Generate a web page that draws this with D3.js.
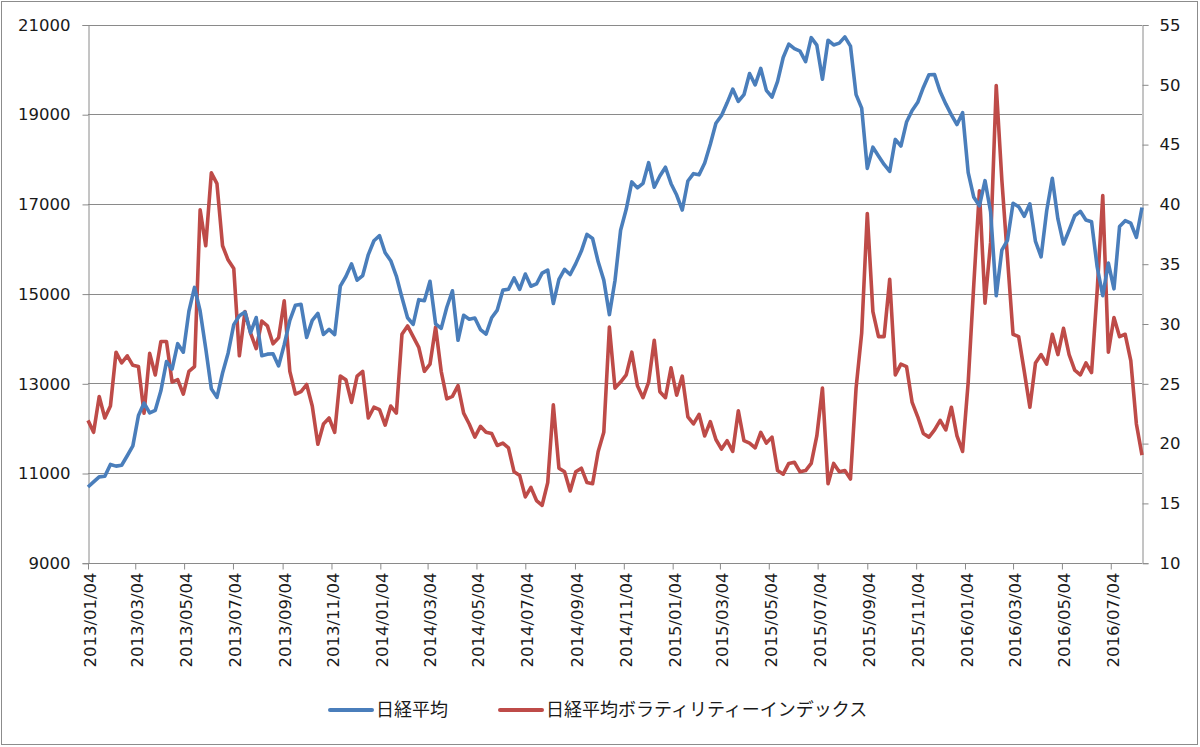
<!DOCTYPE html>
<html>
<head>
<meta charset="utf-8">
<script src="https://cdn.jsdelivr.net/npm/d3@7"></script>
<style>
  body { margin: 0; background: #fff; }
  svg text { font-family: "DejaVu Sans", sans-serif; fill: #1a1a1a; }
  .legend text { font-family: "Noto Sans CJK JP", sans-serif; }
</style>
</head>
<body>
<div id="chart"></div>
<script>
// weekly closes, first week 2013/01/04
const startDate = "2013/01/04";

const nikkei = [
  10688, 10801, 10913, 10926, 11191, 11153, 11173, 11385, 11606, 12283, 12560, 12338, 12397,
  12833, 13485, 13316, 13884, 13694, 14607, 15138, 14612, 13774, 12877, 12686, 13230, 13677,
  14309, 14506, 14589, 14129, 14466, 13615, 13650, 13660, 13388, 13860, 14404, 14742, 14760,
  14024, 14404, 14561, 14088, 14201, 14086, 15165, 15381, 15661, 15299, 15403, 15870, 16178,
  16291, 15912, 15734, 15391, 14914, 14462, 14313, 14865, 14841, 15274, 14327, 14224, 14696,
  15063, 13960, 14516, 14429, 14457, 14199, 14096, 14462, 14632, 15077, 15097, 15349, 15095,
  15437, 15164, 15215, 15457, 15523, 14778, 15318, 15539, 15425, 15668, 15948, 16321, 16229,
  15708, 15300, 14532, 15291, 16413, 16880, 17490, 17357, 17459, 17920, 17371, 17621, 17818,
  17451, 17197, 16864, 17511, 17674, 17648, 17913, 18332, 18798, 18971, 19254, 19560, 19285,
  19435, 19908, 19653, 20020, 19531, 19379, 19733, 20264, 20563, 20461, 20407, 20174, 20706,
  20539, 19780, 20650, 20544, 20585, 20724, 20519, 19436, 19136, 17792, 18264, 18070, 17880,
  17725, 18438, 18291, 18825, 19083, 19265, 19596, 19879, 19883, 19504, 19230, 18986, 18769,
  19033, 17697, 17147, 16958, 17518, 16819, 14952, 15967, 16188, 17014, 16938, 16724, 17002,
  16164, 15821, 16848, 17572, 16666, 16106, 16412, 16736, 16834, 16642, 16601, 15599, 14952,
  15682, 15106, 16497, 16627, 16569, 16254, 16919
];

const nikkeiVI = [
  21.9, 20.9, 23.9, 22.1, 23.1, 27.6, 26.7, 27.3, 26.5, 26.4, 22.5, 27.5, 25.7,
  28.5, 28.5, 25.1, 25.3, 24.1, 26.0, 26.4, 39.5, 36.5, 42.6, 41.7, 36.5, 35.3,
  34.6, 27.3, 31.0, 29.2, 27.9, 30.2, 29.8, 28.3, 28.8, 31.9, 26.0, 24.1, 24.3,
  24.9, 23.1, 19.9, 21.6, 22.1, 20.9, 25.6, 25.3, 23.4, 25.6, 26.0, 22.1, 23.0,
  22.8, 21.5, 23.1, 22.5, 29.1, 29.8, 28.9, 28.0, 26.0, 26.6, 29.7, 26.0, 23.7,
  23.9, 24.8, 22.5, 21.6, 20.5, 21.4, 20.9, 20.8, 19.8, 20.0, 19.6, 17.6, 17.3,
  15.5, 16.3, 15.2, 14.8, 16.7, 23.2, 17.9, 17.6, 16.0, 17.6, 17.9, 16.7, 16.6,
  19.3, 20.9, 29.7, 24.6, 25.1, 25.7, 27.6, 24.8, 23.8, 25.1, 28.6, 24.3, 23.8,
  26.3, 24.0, 25.6, 22.2, 21.6, 22.4, 20.6, 21.8, 20.3, 19.5, 20.2, 19.3, 22.7,
  20.2, 20.0, 19.6, 20.9, 20.0, 20.5, 17.7, 17.4, 18.3, 18.4, 17.6, 17.7, 18.3,
  20.6, 24.6, 16.6, 18.3, 17.6, 17.7, 17.0, 24.6, 29.2, 39.2, 31.0, 28.9, 28.9,
  33.7, 25.7, 26.6, 26.4, 23.4, 22.2, 20.8, 20.5, 21.1, 21.9, 21.1, 23.0, 20.6,
  19.3, 25.1, 33.3, 41.1, 31.7, 36.8, 49.9, 42.0, 35.5, 29.1, 28.9, 26.0, 23.0,
  26.7, 27.4, 26.6, 29.1, 27.4, 29.6, 27.4, 26.1, 25.7, 26.7, 25.9, 32.7, 40.7,
  27.6, 30.5, 28.9, 29.1, 26.9, 21.6, 19.0
];

const xTickLabels = [
  "2013/01/04", "2013/03/04", "2013/05/04", "2013/07/04", "2013/09/04", "2013/11/04",
  "2014/01/04", "2014/03/04", "2014/05/04", "2014/07/04", "2014/09/04", "2014/11/04",
  "2015/01/04", "2015/03/04", "2015/05/04", "2015/07/04", "2015/09/04", "2015/11/04",
  "2016/01/04", "2016/03/04", "2016/05/04", "2016/07/04"
];
const leftTicks = [9000, 11000, 13000, 15000, 17000, 19000, 21000];
const rightTicks = [10, 15, 20, 25, 30, 35, 40, 45, 50, 55];
const seriesNames = ["日経平均", "日経平均ボラティリティーインデックス"];

const width = 1200, height = 747;
const plot = { left: 88, right: 1142, top: 24.5, bottom: 562.7 };
const blue = "#4a7ebb", red = "#be4b48", grid = "#8a8a8a";

const parse = d3.timeParse("%Y/%m/%d");
const start = parse(startDate);
const dates = nikkei.map((d, i) => d3.timeDay.offset(start, 7 * i));

const x = d3.scaleTime()
  .domain([start, dates[dates.length - 1]])
  .range([plot.left, plot.right]);
const yL = d3.scaleLinear().domain([9000, 21000]).range([plot.bottom, plot.top]);
const yR = d3.scaleLinear().domain([10, 55]).range([plot.bottom, plot.top]);

const svg = d3.select("#chart").append("svg")
  .attr("width", width)
  .attr("height", height);

// chart border
svg.append("rect")
  .attr("x", 1.5).attr("y", 1.5)
  .attr("width", width - 4).attr("height", height - 4)
  .attr("fill", "#fff")
  .attr("stroke", "#8c8c8c");

// gridlines
svg.append("g")
  .selectAll("line")
  .data(leftTicks)
  .enter().append("line")
  .attr("x1", plot.left).attr("x2", plot.right)
  .attr("y1", d => Math.round(yL(d)) + 0.5)
  .attr("y2", d => Math.round(yL(d)) + 0.5)
  .attr("stroke", grid);

// left axis
const axL = svg.append("g")
  .attr("transform", `translate(${plot.left + 0.5},0.5)`)
  .call(d3.axisLeft(yL).tickValues(leftTicks).tickSize(6).tickPadding(12).tickFormat(d3.format("d")));

// right axis
const axR = svg.append("g")
  .attr("transform", `translate(${plot.right + 0.5},0.5)`)
  .call(d3.axisRight(yR).tickValues(rightTicks).tickSize(6).tickPadding(11));

// bottom axis
const axB = svg.append("g")
  .attr("transform", `translate(0,${Math.round(plot.bottom) + 0.5})`)
  .call(d3.axisBottom(x).tickValues(xTickLabels.map(parse)).tickSize(6)
    .tickFormat(d3.timeFormat("%Y/%m/%d")));

axB.selectAll("text")
  .attr("transform", "rotate(-90)")
  .attr("text-anchor", "end")
  .attr("x", -9)
  .attr("y", 0)
  .attr("dy", "0.45em");

[axL, axR, axB].forEach(ax => {
  ax.select(".domain").attr("stroke", grid);
  ax.selectAll(".tick line").attr("stroke", grid);
  ax.selectAll("text").style("font-size", "16.5px").attr("fill", "#1a1a1a");
});
axB.select(".domain").attr("d", `M${plot.left},0H${plot.right}`);

// lines
const lineL = d3.line().x((d, i) => x(dates[i])).y(d => yL(d));
const lineR = d3.line().x((d, i) => x(dates[i])).y(d => yR(d));

svg.append("path")
  .datum(nikkeiVI)
  .attr("d", lineR)
  .attr("fill", "none")
  .attr("stroke", red)
  .attr("stroke-width", 3.6)
  .attr("stroke-linejoin", "round");

svg.append("path")
  .datum(nikkei)
  .attr("d", lineL)
  .attr("fill", "none")
  .attr("stroke", blue)
  .attr("stroke-width", 3.6)
  .attr("stroke-linejoin", "round");

// legend
const legend = svg.append("g").attr("class", "legend");
const legendX = [330, 500];
const legendColors = [blue, red];
seriesNames.forEach((name, i) => {
  legend.append("line")
    .attr("x1", legendX[i]).attr("x2", legendX[i] + 42)
    .attr("y1", 710).attr("y2", 710)
    .attr("stroke", legendColors[i])
    .attr("stroke-width", 4)
    .attr("stroke-linecap", "round");
  legend.append("text")
    .attr("x", legendX[i] + 46)
    .attr("y", 710)
    .attr("dy", "0.35em")
    .style("font-size", "18px")
    .text(name);
});
</script>
</body>
</html>
